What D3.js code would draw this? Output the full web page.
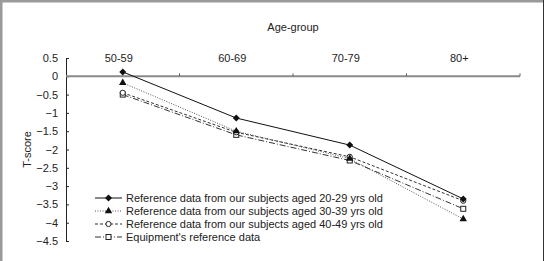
<html>
<head>
<meta charset="utf-8">
<title>T-score by age group</title>
<style>
  html, body { margin: 0; padding: 0; background: #fff; }
  svg { display: block; font-family: 'Liberation Sans', Arial, sans-serif; }
  .tick text { font-size: 11px; fill: #222; }
</style>
</head>
<body>
<div id="chart"></div>
<script src="https://cdn.jsdelivr.net/npm/d3@7"></script>
<script>
// data
var ageGroups = ['50-59', '60-69', '70-79', '80+'];
var ref2029 = [0.12, -1.14, -1.88, -3.35];
var ref3039 = [-0.18, -1.5, -2.25, -3.9];
var ref4049 = [-0.45, -1.53, -2.2, -3.4];
var equipRef = [-0.5, -1.6, -2.3, -3.62];
var yTicks = [0.5, 0, -0.5, -1, -1.5, -2, -2.5, -3, -3.5, -4, -4.5];
var seriesNames = [
  'Reference data from our subjects aged 20-29 yrs old',
  'Reference data from our subjects aged 30-39 yrs old',
  'Reference data from our subjects aged 40-49 yrs old',
  "Equipment's reference data"
];

var width = 553, height = 261;

var svg = d3.select('#chart').append('svg')
  .attr('width', width)
  .attr('height', height);

// frame
svg.append('line').attr('x1', 0).attr('x2', 544).attr('y1', 1).attr('y2', 1)
  .attr('stroke', '#9a9a9a').attr('stroke-width', 3);
svg.append('line').attr('x1', 1).attr('x2', 1).attr('y1', 0).attr('y2', height)
  .attr('stroke', '#9a9a9a').attr('stroke-width', 3);
svg.append('line').attr('x1', 543.5).attr('x2', 543.5).attr('y1', 0).attr('y2', height)
  .attr('stroke', '#333').attr('stroke-width', 1);

var x = d3.scaleBand().domain(ageGroups).range([66, 520]);
var y = d3.scaleLinear().domain([0.5, -4.5]).range([58, 241]);

// y axis, ticks pointing inwards
var yAxis = svg.append('g')
  .attr('transform', 'translate(66,0)')
  .call(d3.axisRight(y).tickValues(yTicks).tickSize(3).tickFormat(d3.format('')));
yAxis.select('.domain').attr('stroke', '#222');
yAxis.selectAll('.tick line').attr('stroke', '#222');
yAxis.selectAll('.tick text').attr('x', -8).attr('text-anchor', 'end');

// x axis sits on y = 0, ticks at band edges
var xg = svg.append('g');
xg.append('line')
  .attr('x1', x.range()[0]).attr('x2', x.range()[1])
  .attr('y1', y(0)).attr('y2', y(0))
  .attr('stroke', '#8a8a8a').attr('stroke-width', 2);
xg.selectAll('.xtick').data(ageGroups).enter().append('line')
  .attr('x1', function(d) { return x(d) + x.bandwidth(); })
  .attr('x2', function(d) { return x(d) + x.bandwidth(); })
  .attr('y1', y(0)).attr('y2', y(0) - 3)
  .attr('stroke', '#666');
xg.selectAll('.xlabel').data(ageGroups).enter().append('text')
  .attr('x', function(d) { return x(d) + x.bandwidth() / 2 - 4; })
  .attr('y', y(0.5) + 4)
  .attr('text-anchor', 'middle')
  .attr('font-size', 11).attr('fill', '#222')
  .text(function(d) { return d; });

svg.append('text')
  .attr('x', (x.range()[0] + x.range()[1]) / 2)
  .attr('y', 31)
  .attr('text-anchor', 'middle')
  .attr('font-size', 11).attr('fill', '#222')
  .text('Age-group');

svg.append('text')
  .attr('transform', 'translate(31,' + ((y(0.5) + y(-4.5)) / 2) + ') rotate(-90)')
  .attr('text-anchor', 'middle')
  .attr('font-size', 11).attr('fill', '#222')
  .text('T-score');

var series = [
  { vals: ref2029, dash: null, color: '#111', marker: 'diamond' },
  { vals: ref3039, dash: '1,1.5', color: '#555', marker: 'triangle' },
  { vals: ref4049, dash: '3,2', color: '#333', marker: 'circle' },
  { vals: equipRef, dash: '6,2,1,2', color: '#333', marker: 'square' }
];

function cx(d, i) { return x(ageGroups[i]) + x.bandwidth() / 2; }

var line = d3.line()
  .x(function(d, i) { return cx(d, i); })
  .y(function(d) { return y(d); });

function drawMarker(g, type, px, py) {
  if (type === 'diamond') {
    g.append('path').attr('d', 'M0,-3.5L3.5,0L0,3.5L-3.5,0Z')
      .attr('transform', 'translate(' + px + ',' + py + ')').attr('fill', '#111');
  } else if (type === 'triangle') {
    g.append('path').attr('d', d3.symbol(d3.symbolTriangle, 24)())
      .attr('transform', 'translate(' + px + ',' + py + ')').attr('fill', '#111');
  } else if (type === 'circle') {
    g.append('circle').attr('cx', px).attr('cy', py).attr('r', 2.6)
      .attr('fill', '#fff').attr('stroke', '#222').attr('stroke-width', 1);
  } else {
    g.append('rect').attr('x', px - 2.5).attr('y', py - 2.5).attr('width', 5).attr('height', 5)
      .attr('fill', '#fff').attr('stroke', '#222').attr('stroke-width', 1);
  }
}

var plot = svg.append('g');
series.forEach(function(s) {
  plot.append('path').datum(s.vals)
    .attr('d', line)
    .attr('fill', 'none')
    .attr('stroke', s.color)
    .attr('stroke-width', 1)
    .attr('stroke-dasharray', s.dash);
});
series.slice().reverse().forEach(function(s) {
  s.vals.forEach(function(v, i) { drawMarker(plot, s.marker, cx(v, i), y(v)); });
});

// legend
var legend = svg.append('g');
series.forEach(function(s, i) {
  var ly = 198 + i * 13;
  legend.append('line')
    .attr('x1', 95).attr('x2', 122).attr('y1', ly).attr('y2', ly)
    .attr('stroke', s.color).attr('stroke-width', 1)
    .attr('stroke-dasharray', s.dash);
  drawMarker(legend, s.marker, 108.5, ly);
  legend.append('text')
    .attr('x', 126).attr('y', ly + 4)
    .attr('font-size', 11).attr('fill', '#222')
    .text(seriesNames[i]);
});
</script>
</body>
</html>
